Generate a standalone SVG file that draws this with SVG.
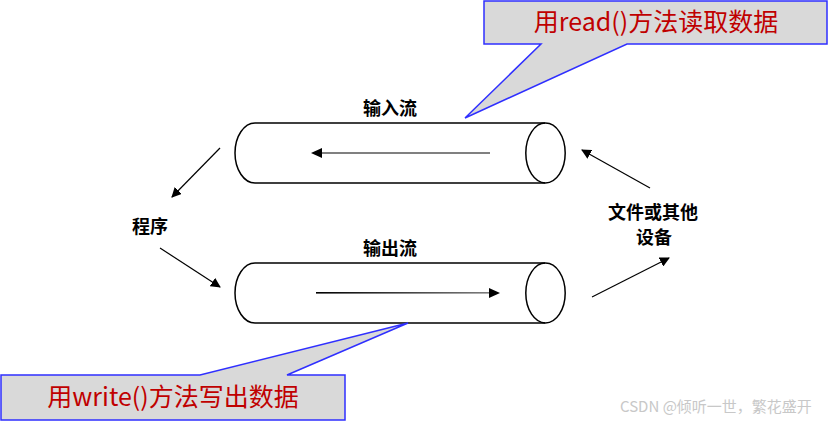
<svg xmlns="http://www.w3.org/2000/svg" width="828" height="422" viewBox="0 0 828 422">
<style>
.cyl{fill:none;stroke:#000;stroke-width:1.5}
.lbl{font-family:"Noto Sans CJK SC","Noto Sans",sans-serif;font-weight:bold;font-size:18px;fill:#000;text-anchor:middle}
.call{fill:#d9d9d9;stroke:#2f2fff;stroke-width:1.5}
.ctext{font-family:"Noto Sans CJK SC","Noto Sans",sans-serif;font-size:25px;fill:#c00000;text-anchor:middle}
.arr{stroke:#000;stroke-width:1.2;fill:none;marker-end:url(#ah)}
.wm{font-family:"Noto Sans CJK SC","Noto Sans",sans-serif;font-size:15px;fill:#c8c8c8}
</style>
<defs>
<marker id="ah" viewBox="0 0 10 10" refX="9" refY="5" markerWidth="10" markerHeight="10" markerUnits="userSpaceOnUse" orient="auto">
<path d="M0,0 L10,5 L0,10 Z" fill="#000"/>
</marker>
<linearGradient id="gl" x1="0" x2="1"><stop offset="0" stop-color="#000"/><stop offset="1" stop-color="#808080"/></linearGradient>
</defs>
<rect width="828" height="422" fill="#fff"/>
<g id="callout-read">
<path class="call" d="M484,1 L827,1 L827,44 L627,44 L465,118 L541,44 L484,44 Z"/>
<text class="ctext" x="656" y="31">用read()方法读取数据</text>
</g>
<g id="input-stream">
<path class="cyl" d="M545,123 L255,123 A20,30 0 0 0 255,183 L545,183"/>
<ellipse class="cyl" cx="545.5" cy="153" rx="19.7" ry="30"/>
<line x1="490" y1="153" x2="318" y2="153" stroke="#808080" stroke-width="2"/>
<path d="M311,153 L322,148 L322,158 Z" fill="#000"/>
<text class="lbl" x="390" y="115">输入流</text>
</g>
<g id="output-stream">
<path class="cyl" d="M545,263 L255,263 A20,30 0 0 0 255,323 L545,323"/>
<ellipse class="cyl" cx="545.5" cy="293" rx="19.7" ry="30"/>
<rect x="316" y="292" width="177" height="1.6" fill="url(#gl)"/>
<path d="M500,293 L489,288 L489,298 Z" fill="#000"/>
<text class="lbl" x="390" y="255">输出流</text>
</g>
<g id="callout-write">
<path class="call" d="M1,375 L200,375 L408,323 L287,375 L345,375 L345,420 L1,420 Z"/>
<text class="ctext" x="173" y="406">用write()方法写出数据</text>
</g>
<g id="program">
<text class="lbl" x="150" y="233">程序</text>
</g>
<g id="device">
<text class="lbl" x="653" y="219">文件或其他</text>
<text class="lbl" x="654" y="244">设备</text>
</g>
<g id="connectors">
<line class="arr" x1="220" y1="148" x2="172" y2="197"/>
<line class="arr" x1="160" y1="248" x2="220" y2="287"/>
<line class="arr" x1="650" y1="188" x2="582" y2="150"/>
<line class="arr" x1="592" y1="297" x2="669" y2="258"/>
</g>
<text class="wm" x="620" y="412">CSDN @倾听一世，繁花盛开</text>
</svg>
